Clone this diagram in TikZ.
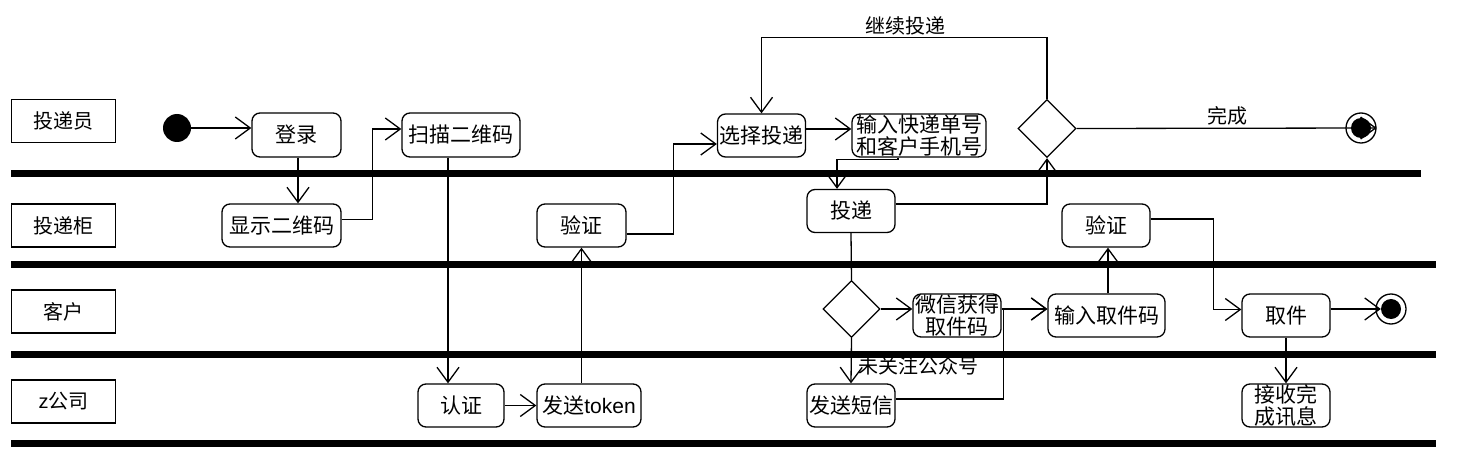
\documentclass[tikz,border=0pt]{standalone}
\usepackage{fontspec}
\setmainfont{Noto Sans CJK SC}
\newfontfamily\lat{Liberation Sans}
\usetikzlibrary{arrows.meta,shapes.geometric}
\tikzset{
  act/.style={draw, rounded corners=8pt, line width=1.3pt, minimum width=88pt, minimum height=43pt, inner sep=0pt, align=center, font=\fontsize{21}{21.5}\selectfont},
  lanebox/.style={draw, line width=1.3pt, minimum width=104pt, minimum height=43pt, inner sep=0pt, font=\fontsize{20}{21}\selectfont},
  sep/.style={line width=7pt},
  flow/.style={line width=1.3pt, -{Straight Barb[length=15pt,width=22pt,line width=1.3pt]}},
  plain/.style={line width=1.3pt},
  dec/.style={draw, diamond, aspect=1, line width=1.3pt, minimum size=58pt, inner sep=0pt},
  lbl/.style={font=\fontsize{20}{21}\selectfont, inner sep=0pt},
  startdot/.style={circle, fill, minimum size=28pt, inner sep=0pt},
  endring/.style={circle, draw, line width=1.3pt, minimum size=30pt, inner sep=0pt},
  enddot/.style={circle, fill, minimum size=20pt, inner sep=0pt}
}
\begin{document}
\begin{tikzpicture}[x=1pt,y=-1pt]
\useasboundingbox (0,0) rectangle (1466,465);
% lane separators
\draw[sep] (11,174) -- (1421,174);
\draw[sep] (11,264) -- (1436,264);
\draw[sep] (11,354) -- (1436,354);
\draw[sep] (11,443) -- (1436,443);
% lane labels
\node[lanebox] (l1) at (63.5,121) {投递员};
\node[lanebox] (l2) at (63.5,225.5) {投递柜};
\node[lanebox] (l3) at (63.5,311.5) {客户};
\node[lanebox] (l4) at (63.5,401.5) {{\lat z}公司};
% nodes
\node[startdot] (start) at (177,128) {};
\node[act, minimum width=89pt, minimum height=44pt] (login) at (296.5,135) {登录};
\node[act, minimum width=119pt] (showqr) at (281.5,225.5) {显示二维码};
\node[act, minimum width=118pt, minimum height=44pt] (scan) at (461,135) {扫描二维码};
\node[act, minimum width=89pt] (verify1) at (581.5,225.5) {验证};
\node[act] (select) at (761.5,135.5) {选择投递};
\node[act, minimum width=134pt] (input) at (919,135.5) {输入快递单号\\和客户手机号};
\node[dec] (dec1) at (1047,128.5) {};
\node[endring] (end1) at (1361,128) {};
\node[enddot] (end1d) at (1361,128) {};
\node[act] (deliver) at (851,211) {投递};
\node[act] (verify2) at (1106,225.5) {验证};
\node[dec, minimum size=57pt] (dec2) at (851.5,309) {};
\node[act] (wechat) at (957,315.5) {微信获得\\取件码};
\node[act, minimum width=117pt] (inputcode) at (1106.5,315.5) {输入取件码};
\node[act] (pickup) at (1286,315.5) {取件};
\node[endring] (end2) at (1391,309) {};
\node[enddot] (end2d) at (1391,309) {};
\node[act, minimum width=86pt] (auth) at (461,405.5) {认证};
\node[act, minimum width=104pt] (token) at (589,405.5) {发送{\lat token}};
\node[act] (sms) at (851,405.5) {发送短信};
\node[act] (receive) at (1286,405.5) {接收完\\成讯息};
% connectors
\draw[flow] (start.east) -- (start.east -| login.west);
\draw[flow] ([xshift=1.5pt]login.south) -- ([xshift=1.5pt]login.south |- showqr.north);
\draw[flow] ([yshift=6pt]showqr.east) -- ++(31,0) |- ([yshift=6pt]scan.west);
\draw[flow] ([xshift=-13pt]scan.south) -- ([xshift=-13pt]auth.north);
\draw[flow] (auth.east) -- (token.west);
\draw[flow] (verify1.south |- token.north) -- (verify1.south);
\draw[flow] ([yshift=-8.5pt]verify1.east) -- ++(47,0) |- ([yshift=-8.5pt]select.west);
\draw[flow] ([yshift=6.5pt]select.east) -- ([yshift=6.5pt]input.west);
\draw[flow] ([xshift=-21pt]input.south) -- ++(0,2) -| ([xshift=-14pt]deliver.north);
\draw[flow] ([yshift=7pt]deliver.east) -| (dec1.south);
\draw[flow] (dec1.north) -- ++(0,-61) coordinate (loopc) -| (select.north);
\node[lbl] (lblcont) at (905,26) {继续投递};
\draw[flow] (dec1.east) -- (end1.east);
\node[lbl] (lbldone) at (1227,116) {完成};
\draw[plain] (deliver.south) -- (dec2.north);
\draw[flow] (dec2.east) -- (dec2.east -| wechat.west);
\draw[flow] (dec2.south) -- (sms.north);
\node[lbl, anchor=west] (lblsms) at (858,366) {未关注公众号};
\draw[flow] ([yshift=6.5pt]wechat.east) -- ([yshift=6.5pt]inputcode.west);
\draw[flow] ([yshift=6.5pt]sms.east) -- ++(108,0) |- ([yshift=6.5pt]inputcode.west);
\draw[flow] ([xshift=1.5pt]inputcode.north) -- ([xshift=1.5pt]inputcode.north |- verify2.south);
\draw[flow] ([yshift=6.5pt]verify2.east) -- ++(63,0) |- ([yshift=6pt]pickup.west);
\draw[flow] ([yshift=6.5pt]pickup.east) -- (end2d.west);
\draw[flow] (pickup.south) -- (receive.north);
\end{tikzpicture}
\end{document}
